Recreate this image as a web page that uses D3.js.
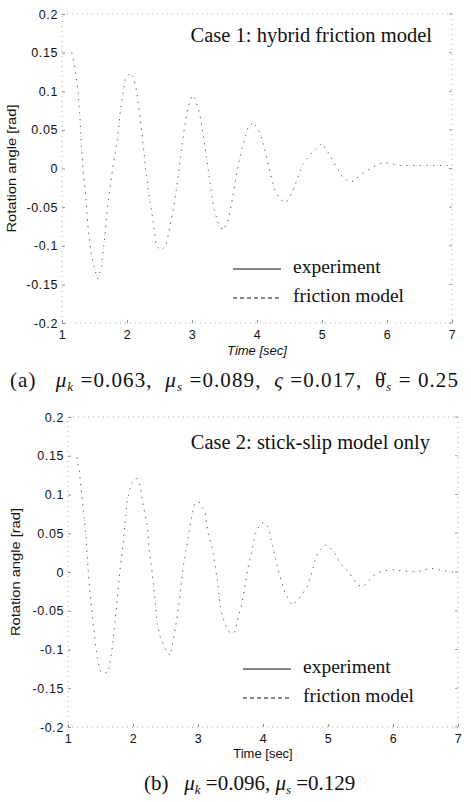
<!DOCTYPE html>
<html>
<head>
<meta charset="utf-8">
<script src="https://cdn.jsdelivr.net/npm/d3@7"></script>
<style>
  body { margin: 0; background: #fff; }
  svg { display: block; }
  .tick text { font-family: "Liberation Sans", Arial, sans-serif; font-size: 12.5px; fill: #111; letter-spacing: 0.6px; }
  .serif { font-family: "Liberation Serif", "Times New Roman", serif; fill: #111; }
  .sans { font-family: "Liberation Sans", Arial, sans-serif; fill: #111; }
</style>
</head>
<body>
<svg id="fig"></svg>
<script>
const W = 471, H = 802;

// tick labels
const xTicks = [1, 2, 3, 4, 5, 6, 7];
const yTicks = [0.2, 0.15, 0.1, 0.05, 0, -0.05, -0.1, -0.15, -0.2];
const yTickLabels = ["0.2", "0.15", "0.1", "0.05", "0", "-0.05", "-0.1", "-0.15", "-0.2"];

// Case 1: hybrid friction model (traces overlap)
const caseA_time = [1.15, 1.2, 1.25, 1.28, 1.3, 1.33, 1.36, 1.4, 1.45, 1.5, 1.55, 1.6, 1.65, 1.7, 1.78, 1.85, 1.9, 1.97,
  2.05, 2.1, 2.15, 2.2, 2.25, 2.3, 2.35, 2.4, 2.45, 2.52, 2.6, 2.65, 2.72, 2.78, 2.83, 2.88, 2.93,
  3.0, 3.05, 3.12, 3.18, 3.23, 3.28, 3.33, 3.4, 3.47, 3.55, 3.62, 3.7, 3.78, 3.87, 3.95,
  4.05, 4.12, 4.2, 4.27, 4.35, 4.45, 4.55, 4.7, 4.85, 5.0, 5.1, 5.25, 5.32, 5.45, 5.6, 5.78, 5.95, 6.2, 6.6, 7.0];
const caseA_experiment = [0.15, 0.13, 0.098, 0.06, 0.028, -0.008, -0.03, -0.075, -0.11, -0.13, -0.143, -0.13, -0.095, -0.05, 0.0, 0.037, 0.076, 0.115,
  0.124, 0.118, 0.1, 0.067, 0.03, -0.011, -0.041, -0.067, -0.1, -0.106, -0.1, -0.08, -0.05, -0.015, 0.02, 0.05, 0.076,
  0.095, 0.09, 0.07, 0.04, 0.01, -0.02, -0.05, -0.07, -0.08, -0.07, -0.04, 0.0, 0.03, 0.055, 0.06,
  0.045, 0.025, -0.005, -0.027, -0.04, -0.044, -0.03, 0.005, 0.021, 0.033, 0.02, -0.002, -0.012, -0.018, -0.008, 0.002, 0.008, 0.004, 0.004, 0.004];
const caseA_model = caseA_experiment;

// Case 2: stick-slip model only
const caseB_time = [1.14, 1.17, 1.22, 1.25, 1.28, 1.32, 1.35, 1.4, 1.45, 1.5, 1.56, 1.62, 1.68, 1.72, 1.77, 1.8, 1.85, 1.91,
  1.98, 2.06, 2.11, 2.15, 2.22, 2.25, 2.29, 2.34, 2.37, 2.42, 2.5, 2.57, 2.62, 2.68, 2.72, 2.77, 2.85, 2.9, 2.95,
  3.02, 3.11, 3.15, 3.22, 3.29, 3.35, 3.42, 3.49, 3.57, 3.62, 3.68, 3.72, 3.77, 3.83, 3.88, 3.95, 4.0,
  4.08, 4.15, 4.26, 4.34, 4.45, 4.55, 4.68, 4.75, 4.8, 4.85, 4.95, 5.08, 5.18, 5.31, 5.46, 5.54, 5.75, 5.95, 6.37, 6.57, 6.9, 7.0];
const caseB_experiment = [0.148, 0.132, 0.095, 0.07, 0.041, -0.01, -0.036, -0.077, -0.111, -0.129, -0.13, -0.13, -0.098, -0.068, -0.023, 0.003, 0.037, 0.093,
  0.115, 0.121, 0.112, 0.089, 0.06, 0.028, 0.003, -0.036, -0.066, -0.084, -0.1, -0.108, -0.088, -0.058, -0.032, 0.006, 0.045, 0.071, 0.089,
  0.09, 0.077, 0.052, 0.031, -0.006, -0.049, -0.068, -0.079, -0.077, -0.058, -0.04, -0.019, 0.006, 0.028, 0.05, 0.061, 0.064,
  0.058, 0.032, -0.006, -0.027, -0.043, -0.035, -0.019, -0.001, 0.015, 0.026, 0.035, 0.028, 0.012, 0.0, -0.017, -0.019, -0.001, 0.003, 0.0, 0.005, 0.0, -0.001];
const caseB_model = caseB_experiment;

const svg = d3.select("#fig").attr("width", W).attr("height", H);

function drawPanel(opt) {
  const x = d3.scaleLinear().domain([1, 7]).range([opt.left, opt.right]);
  const y = d3.scaleLinear().domain([-0.2, 0.2]).range([opt.bottom, opt.top]);
  const g = svg.append("g");

  // faint box like the scan
  g.append("rect")
    .attr("x", opt.left).attr("y", opt.top)
    .attr("width", opt.right - opt.left).attr("height", opt.bottom - opt.top)
    .attr("fill", "none").attr("stroke", "#999").attr("stroke-width", 0.8)
    .attr("stroke-dasharray", "1,4");

  const yAxis = g.append("g")
    .attr("transform", "translate(" + opt.left + ",0)")
    .call(d3.axisLeft(y).tickValues(yTicks).tickFormat((d, i) => yTickLabels[i])
      .tickSizeInner(-3).tickSizeOuter(0).tickPadding(4));
  const xAxis = g.append("g")
    .attr("transform", "translate(0," + opt.bottom + ")")
    .call(d3.axisBottom(x).tickValues(xTicks).tickFormat(d3.format("d"))
      .tickSizeInner(-3).tickSizeOuter(0).tickPadding(7));
  [yAxis, xAxis].forEach(a => {
    a.select(".domain").remove();
    a.selectAll(".tick line").attr("stroke", "#777").attr("stroke-width", 0.8);
  });
  // right side ticks
  g.selectAll(".rtick").data(yTicks).enter().append("line")
    .attr("x1", opt.right).attr("x2", opt.right - 3)
    .attr("y1", d => y(d)).attr("y2", d => y(d))
    .attr("stroke", "#888").attr("stroke-width", 0.8);

  const line = d3.line().x(d => x(d[0])).y(d => y(d[1]));
  const expPts = opt.time.map((t, i) => [t, opt.exp[i]]);
  const modPts = opt.time.map((t, i) => [t, opt.model[i]]);

  g.append("path").datum(expPts)
    .attr("d", line).attr("fill", "none")
    .attr("stroke", "#c4c4c4").attr("stroke-width", 0.8)
    .attr("stroke-dasharray", "1,6");
  g.append("path").datum(modPts)
    .attr("d", line).attr("fill", "none")
    .attr("stroke", "#555").attr("stroke-width", 1)
    .attr("stroke-dasharray", "1.2,5.5");

  // title
  g.append("text").attr("class", "serif")
    .attr("x", opt.titleX).attr("y", opt.titleY)
    .attr("text-anchor", "end").attr("font-size", 20.5)
    .text(opt.title);

  // legend
  const lg = g.append("g");
  lg.append("line")
    .attr("x1", opt.legX).attr("x2", opt.legX + opt.legLen)
    .attr("y1", opt.legY - 4).attr("y2", opt.legY - 4)
    .attr("stroke", "#111").attr("stroke-width", 1);
  lg.append("line")
    .attr("x1", opt.legX).attr("x2", opt.legX + opt.legLen)
    .attr("y1", opt.legY + 25).attr("y2", opt.legY + 25)
    .attr("stroke", "#111").attr("stroke-width", 1)
    .attr("stroke-dasharray", "4,3");
  lg.append("text").attr("class", "serif")
    .attr("x", opt.legX + opt.legLen + 12).attr("y", opt.legY)
    .attr("font-size", 19.5).text("experiment");
  lg.append("text").attr("class", "serif")
    .attr("x", opt.legX + opt.legLen + 12).attr("y", opt.legY + 29)
    .attr("font-size", 19.5).text("friction model");

  // axis labels
  g.append("text").attr("class", "sans")
    .attr("transform", "translate(" + opt.yLabX + "," + y(0) + ") rotate(-90)")
    .attr("text-anchor", "middle").attr("font-size", 12)
    .attr("textLength", 128).attr("lengthAdjust", "spacingAndGlyphs")
    .text("Rotation angle [rad]");
  g.append("text").attr("class", "sans")
    .attr("x", x(4)).attr("y", opt.xLabY)
    .attr("text-anchor", "middle").attr("font-size", 13)
    .attr("font-style", opt.italic ? "italic" : "normal")
    .text("Time [sec]");
}

drawPanel({
  left: 62, right: 452, top: 14, bottom: 323,
  time: caseA_time, exp: caseA_experiment, model: caseA_model,
  title: "Case 1: hybrid friction model", titleX: 432, titleY: 42,
  legX: 233, legLen: 48, legY: 273,
  yLabX: 16, xLabY: 355, italic: true
});
drawPanel({
  left: 68, right: 458, top: 417, bottom: 727,
  time: caseB_time, exp: caseB_experiment, model: caseB_model,
  title: "Case 2: stick-slip model only", titleX: 430, titleY: 449,
  legX: 243, legLen: 48, legY: 673,
  yLabX: 20, xLabY: 758, italic: false
});

// captions: one flowing line, subscripts lowered and restored
function caption(xPos, yPos, spacing, parts) {
  const t = svg.append("text").attr("class", "serif")
    .attr("x", xPos).attr("y", yPos).attr("font-size", 21)
    .style("letter-spacing", spacing + "px")
    .style("white-space", "pre");
  parts.forEach(p => {
    const s = t.append("tspan").text(p.text);
    if (p.italic) s.attr("font-style", "italic");
    if (p.sub) s.attr("font-size", 13).attr("font-style", "italic").attr("dy", 4);
    if (p.back) s.attr("dy", -4);
  });
}
caption(10, 387, 1.1, [
  {text: "(a)   "}, {text: "μ", italic: true}, {text: "k", sub: true}, {text: " =0.063,  ", back: true},
  {text: "μ", italic: true}, {text: "s", sub: true}, {text: " =0.089,  ", back: true},
  {text: "ς", italic: true}, {text: " =0.017,  "},
  {text: "θ̇"}, {text: "s", sub: true}, {text: " = 0.25", back: true}
]);
caption(144, 790, 0, [
  {text: "(b)   "}, {text: "μ", italic: true}, {text: "k", sub: true}, {text: " =0.096, ", back: true},
  {text: "μ", italic: true}, {text: "s", sub: true}, {text: " =0.129", back: true}
]);
</script>
</body>
</html>
